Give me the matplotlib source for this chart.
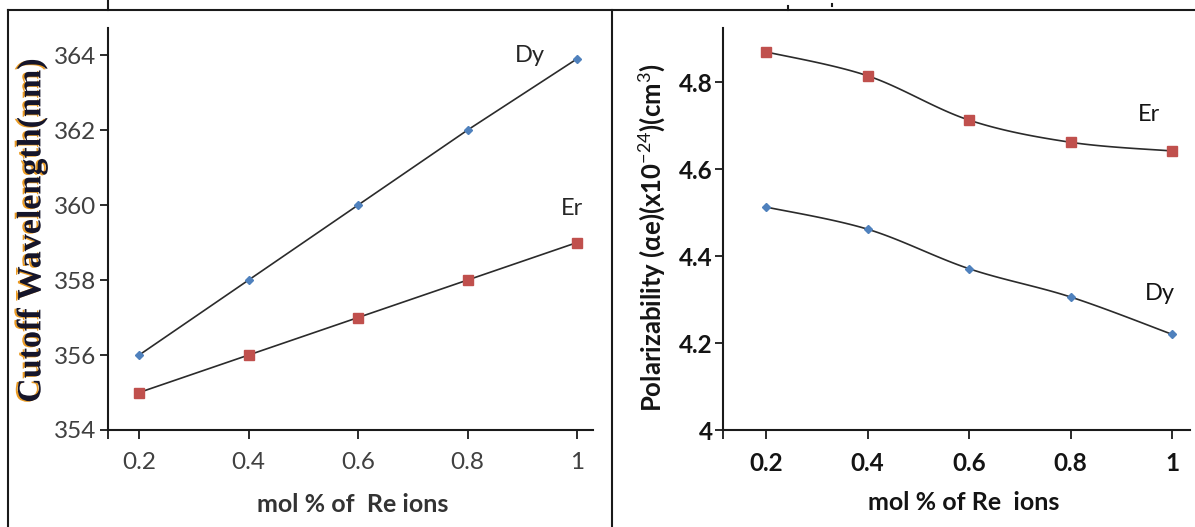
import numpy as np
import matplotlib.pyplot as plt
from matplotlib.lines import Line2D
import matplotlib.patheffects as pe

plt.rcParams['font.family'] = ['Lato', 'DejaVu Sans']
plt.rcParams['mathtext.fontset'] = 'custom'
plt.rcParams['mathtext.rm'] = 'Lato'

# data
mol = [0.2, 0.4, 0.6, 0.8, 1.0]
mol_labels = ['0.2', '0.4', '0.6', '0.8', '1']

cutoff_dy = [356, 358, 360, 362, 363.9]
cutoff_er = [355, 356, 357, 358, 359]

polar_er = [4.870, 4.815, 4.713, 4.662, 4.642]
polar_dy = [4.513, 4.462, 4.371, 4.306, 4.220]

cutoff_ticks = [354, 356, 358, 360, 362, 364]
polar_ticks = [4.0, 4.2, 4.4, 4.6, 4.8]
polar_tick_labels = ['4', '4.2', '4.4', '4.6', '4.8']

W, H = 1195, 527
BLUE = '#4F81BD'
RED = '#C0504D'
LINE = '#2b2b2b'


def smooth(x, y, n=30):
    # excel style smoothed line (catmull-rom bezier)
    x = np.asarray(x, float)
    y = np.asarray(y, float)
    px = np.concatenate([[x[0]], x, [x[-1]]])
    py = np.concatenate([[y[0]], y, [y[-1]]])
    xs, ys = [], []
    t = np.linspace(0, 1, n)
    for i in range(1, len(px) - 2):
        p0 = np.array([px[i], py[i]])
        p3 = np.array([px[i + 1], py[i + 1]])
        c1 = p0 + (np.array([px[i + 1], py[i + 1]]) - np.array([px[i - 1], py[i - 1]])) / 6
        c2 = p3 - (np.array([px[i + 2], py[i + 2]]) - np.array([px[i], py[i]])) / 6
        b = ((1 - t) ** 3)[:, None] * p0 + (3 * (1 - t) ** 2 * t)[:, None] * c1 \
            + (3 * (1 - t) * t ** 2)[:, None] * c2 + (t ** 3)[:, None] * p3
        xs.extend(b[:, 0])
        ys.extend(b[:, 1])
    return xs, ys


def fx(px):
    return px / W


def fy(py):
    return 1 - py / H


def style_axes(ax, xlim):
    for s in ['top', 'right']:
        ax.spines[s].set_visible(False)
    for s in ['left', 'bottom']:
        ax.spines[s].set_linewidth(1.5)
        ax.spines[s].set_color('#1a1a1a')
    ax.set_xlim(*xlim)
    ax.set_xticks(mol)
    ax.set_xticklabels(mol_labels)
    ax.set_xticks([xlim[0]], minor=True)
    ax.tick_params(axis='x', which='both', direction='out', length=6.5, width=1.3,
                   color='#1a1a1a', pad=9)
    ax.tick_params(axis='y', direction='out', length=5.5, width=1.3, color='#1a1a1a')


fig = plt.figure(figsize=(W / 100, H / 100), dpi=100)

# left panel
ax1 = fig.add_axes([fx(108), fy(430), (593 - 108) / W, (430 - 28) / H])
style_axes(ax1, (0.143, 1.029))
ax1.plot(mol, cutoff_dy, color=LINE, lw=1.2, marker='D', ms=4.5,
         mfc=BLUE, mec=BLUE, zorder=3)
ax1.plot(mol, cutoff_er, color=LINE, lw=1.2, marker='s', ms=7.5,
         mfc=RED, mec=RED, zorder=3)
ax1.set_ylim(354, 364.72)
ax1.set_yticks(cutoff_ticks)
ax1.tick_params(axis='both', labelsize=17.5, labelcolor='#404040')
ax1.tick_params(axis='y', pad=3)
ax1.text(0.914, 364.0, 'Dy', fontsize=17, color='#262626', ha='center', va='center')
ax1.text(0.991, 359.9, 'Er', fontsize=17, color='#262626', ha='center', va='center')

# right panel
ax2 = fig.add_axes([fx(723), fy(430), (1190 - 723) / W, (430 - 28) / H])
style_axes(ax2, (0.115, 1.035))
sx, sy = smooth(mol, polar_er)
ax2.plot(sx, sy, color=LINE, lw=1.2, zorder=2)
ax2.plot(mol, polar_er, ls='none', marker='s', ms=7.5, mfc=RED, mec=RED, zorder=3)
sx, sy = smooth(mol, polar_dy)
ax2.plot(sx, sy, color=LINE, lw=1.2, zorder=2)
ax2.plot(mol, polar_dy, ls='none', marker='D', ms=4.5, mfc=BLUE, mec=BLUE, zorder=3)
ax2.set_ylim(4.0, 4.925)
ax2.set_yticks(polar_ticks)
ax2.set_yticklabels(polar_tick_labels)
ax2.tick_params(axis='both', labelsize=17.5, labelcolor='#141414')
ax2.tick_params(axis='y', pad=2)
for lab in ax2.get_xticklabels() + ax2.get_yticklabels():
    lab.set_fontweight('bold')
ax2.text(0.955, 4.725, 'Er', fontsize=17, color='#141414', ha='center', va='center')
ax2.text(0.976, 4.314, 'Dy', fontsize=17, color='#141414', ha='center', va='center')

# axis titles
fig.text(fx(353), fy(505), 'mol % of  Re ions', fontsize=18, fontweight='bold',
         color='#333333', ha='center', va='center')
fig.text(fx(964), fy(502), 'mol % of Re  ions', fontsize=18, fontweight='bold',
         color='#141414', ha='center', va='center')
ylab = fig.text(fx(32), fy(231), 'Cutoff Wavelength(nm)', rotation=90,
                fontsize=24.5, fontweight='bold', family='Liberation Serif',
                color='#15152a', ha='center', va='center')
ylab.set_path_effects([pe.SimplePatchShadow(offset=(-1.5, -0.5),
                                            shadow_rgbFace='#e8900c', alpha=0.9),
                       pe.Normal()])
fig.text(fx(651), fy(238), r'Polarizability (αe)(x10$^{-24}$)(cm$^{3}$)', rotation=90,
         fontsize=18.5, fontweight='bold', color='#141414', ha='center', va='center')

# outer frame of the scanned figure
for xs, ys in [([8, W], [9.5, 9.5]), ([8, 8], [9.5, H]), ([612, 612], [9.5, H]),
               ([108, 108], [0, 9.5]), ([788, 788], [6, 9.5]), ([832, 832], [4, 6])]:
    fig.add_artist(Line2D([fx(x) for x in xs], [fy(y) for y in ys],
                          color='#1a1a1a', lw=1.5))

fig.savefig('out.png', dpi=100)
